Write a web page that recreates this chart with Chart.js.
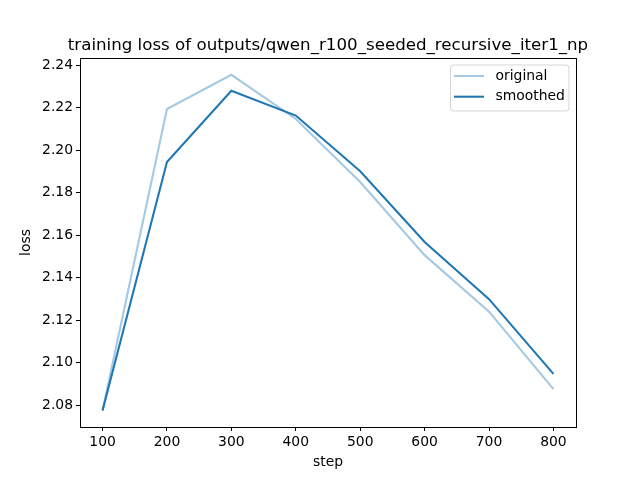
<!DOCTYPE html>
<html>
<head>
<meta charset="utf-8">
<script src="https://cdn.jsdelivr.net/npm/chart.js@4/dist/chart.umd.min.js"></script>
<style>
  html, body { margin: 0; padding: 0; background: #ffffff; }
  #c { display: block; }
</style>
</head>
<body>
<canvas id="c" width="640" height="480"></canvas>
<script>
const chartTitle = 'training loss of outputs/qwen_r100_seeded_recursive_iter1_np';
const xTitle = 'step';
const yTitle = 'loss';
const steps = [100, 200, 300, 400, 500, 600, 700, 800];
const original = [2.0775, 2.2194, 2.2355, 2.2147, 2.1850, 2.1506, 2.1240, 2.0875];
const smoothed = [2.0775, 2.1944, 2.2280, 2.2163, 2.1901, 2.1568, 2.1299, 2.0947];
const seriesNames = ['original', 'smoothed'];
const xTickLabels = ['100', '200', '300', '400', '500', '600', '700', '800'];
const yTickLabels = ['2.08', '2.10', '2.12', '2.14', '2.16', '2.18', '2.20', '2.22', '2.24'];

const FONT = 'DejaVu Sans';
const blue = '#1f77b4';
const lightBlue = 'rgba(31,119,180,0.4)';

const titlePlugin = {
  id: 'mplTitle',
  afterDraw(chart) {
    const a = chart.chartArea, ctx = chart.ctx;
    ctx.save();
    ctx.font = '16.67px "' + FONT + '"';
    ctx.fillStyle = '#000';
    ctx.textAlign = 'center';
    ctx.textBaseline = 'alphabetic';
    ctx.fillText(chartTitle, (a.left + a.right) / 2, a.top - 8);
    ctx.restore();
  }
};

const framePlugin = {
  id: 'frame',
  afterDatasetsDraw(chart) {
    const a = chart.chartArea, ctx = chart.ctx;
    ctx.save();
    ctx.strokeStyle = '#000';
    ctx.lineWidth = 1;
    ctx.strokeRect(Math.round(a.left) + 0.5, Math.round(a.top) + 0.5,
                   Math.round(a.right - a.left), Math.round(a.bottom - a.top));
    ctx.restore();
  }
};

const legendPlugin = {
  id: 'mplLegend',
  afterDraw(chart) {
    const ctx = chart.ctx;
    const a = chart.chartArea;
    const x0 = a.right - 7, y0 = a.top + 7;
    const w = 118.5, h = 46;
    const bx = x0 - w, by = y0;
    ctx.save();
    const r = 3;
    ctx.beginPath();
    ctx.moveTo(bx + r, by);
    ctx.lineTo(bx + w - r, by);
    ctx.quadraticCurveTo(bx + w, by, bx + w, by + r);
    ctx.lineTo(bx + w, by + h - r);
    ctx.quadraticCurveTo(bx + w, by + h, bx + w - r, by + h);
    ctx.lineTo(bx + r, by + h);
    ctx.quadraticCurveTo(bx, by + h, bx, by + h - r);
    ctx.lineTo(bx, by + r);
    ctx.quadraticCurveTo(bx, by, bx + r, by);
    ctx.closePath();
    ctx.fillStyle = 'rgba(255,255,255,0.8)';
    ctx.fill();
    ctx.strokeStyle = 'rgba(204,204,204,0.8)';
    ctx.lineWidth = 1;
    ctx.stroke();
    ctx.font = '13.9px "' + FONT + '"';
    ctx.textBaseline = 'middle';
    ctx.textAlign = 'left';
    chart.data.datasets.forEach((ds, i) => {
      const cy = by + 11 + i * 20.7;
      ctx.beginPath();
      ctx.strokeStyle = ds.borderColor;
      ctx.lineWidth = ds.borderWidth;
      ctx.moveTo(bx + 3.5, cy);
      ctx.lineTo(bx + 33.5, cy);
      ctx.stroke();
      ctx.fillStyle = '#000';
      ctx.fillText(ds.label, bx + 45, cy);
    });
    ctx.restore();
  }
};

new Chart(document.getElementById('c'), {
  type: 'line',
  data: {
    datasets: [
      {
        label: seriesNames[0],
        data: steps.map((s, i) => ({ x: s, y: original[i] })),
        borderColor: lightBlue,
        borderWidth: 2.08,
        pointRadius: 0,
        tension: 0,
        fill: false
      },
      {
        label: seriesNames[1],
        data: steps.map((s, i) => ({ x: s, y: smoothed[i] })),
        borderColor: blue,
        borderWidth: 2.08,
        pointRadius: 0,
        tension: 0,
        fill: false
      }
    ]
  },
  options: {
    responsive: false,
    devicePixelRatio: 1,
    animation: false,
    layout: { padding: { left: 0, right: 64, top: 58, bottom: 0 } },
    plugins: {
      legend: { display: false },
      tooltip: { enabled: false },
      title: { display: false }
    },
    scales: {
      x: {
        type: 'linear',
        min: 65,
        max: 835,
        afterFit(scale) { scale.height = 53; },
        afterBuildTicks(scale) { scale.ticks = xTickLabels.map(v => ({ value: parseFloat(v) })); },
        grid: { drawOnChartArea: false, drawTicks: true, tickLength: 4, tickColor: '#000', tickWidth: 1 },
        border: { display: true, color: '#000', width: 1 },
        ticks: {
          color: '#000',
          padding: 3,
          maxRotation: 0,
          autoSkip: false,
          font: { family: FONT, size: 13.9 },
          callback: (v) => xTickLabels[steps.indexOf(v)] ?? String(v)
        },
        title: {
          display: true,
          text: xTitle,
          color: '#000',
          font: { family: FONT, size: 13.9, lineHeight: 1.2 },
          padding: { top: 0, bottom: 9.5 }
        }
      },
      y: {
        type: 'linear',
        min: 2.0697,
        max: 2.2434,
        afterFit(scale) { scale.width = 80; },
        afterBuildTicks(scale) { scale.ticks = yTickLabels.map(v => ({ value: parseFloat(v) })); },
        grid: { drawOnChartArea: false, drawTicks: true, tickLength: 4, tickColor: '#000', tickWidth: 1 },
        border: { display: true, color: '#000', width: 1 },
        ticks: {
          color: '#000',
          padding: 3,
          autoSkip: false,
          font: { family: FONT, size: 13.9 },
          callback: (v) => {
            const i = yTickLabels.findIndex(t => Math.abs(parseFloat(t) - v) < 1e-6);
            return i >= 0 ? yTickLabels[i] : String(v);
          }
        },
        title: {
          display: true,
          text: yTitle,
          color: '#000',
          font: { family: FONT, size: 13.9, lineHeight: 1.2 },
          padding: { top: 18.5, bottom: 0 }
        }
      }
    }
  },
  plugins: [framePlugin, legendPlugin, titlePlugin]
});
</script>
</body>
</html>
